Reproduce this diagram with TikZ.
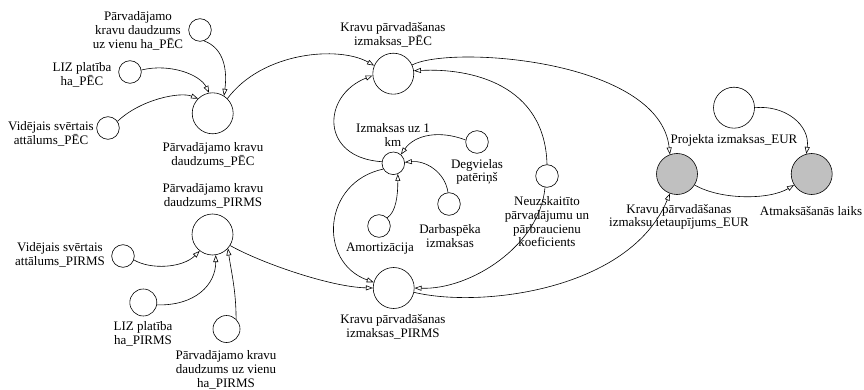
\documentclass[tikz,border=0pt]{standalone}
\usepackage{fontspec}
\setmainfont{Liberation Serif}
\usetikzlibrary{arrows.meta}
\definecolor{fillg}{RGB}{192,192,192}
\begin{document}
\begin{tikzpicture}[x=1pt,y=1pt,
  every node/.style={font=\fontsize{13}{13.7}\selectfont},
  bigc/.style={circle,draw,line width=0.6pt,minimum size=41pt,inner sep=0pt},
  smallc/.style={circle,draw,line width=0.6pt,minimum size=22.6pt,inner sep=0pt},
  midc/.style={circle,draw,line width=0.6pt,minimum size=27pt,inner sep=0pt},
  lab/.style={align=center,inner sep=0pt},
  arr/.style={line width=0.6pt,-{Triangle[open,length=7pt,width=5pt]}}]
\useasboundingbox (0,-390) rectangle (864,0);
% nodes
\node[smallc] (vhaPEC) at (200,-30) {};
\node[smallc] (lizPEC) at (130,-72) {};
\node[smallc] (vidPEC) at (108,-128) {};
\node[bigc] (daudzPEC) at (212.7,-113.3) {};
\node[bigc] (daudzPIRMS) at (212.5,-234.5) {};
\node[smallc] (vidPIRMS) at (123,-256) {};
\node[midc] (lizPIRMS) at (143.3,-302.5) {};
\node[midc] (vhaPIRMS) at (226.5,-329) {};
\node[bigc] (izmPEC) at (393.3,-73.7) {};
\node[smallc] (km) at (393.3,-163.3) {};
\node[smallc] (degv) at (477,-142) {};
\node[smallc] (darb) at (449,-204) {};
\node[smallc] (amort) at (379,-226) {};
\node[smallc] (neuz) at (547,-176) {};
\node[bigc] (izmPIRMS) at (393.7,-288) {};
\node[bigc,fill=fillg] (ietaup) at (677,-174) {};
\node[bigc,fill=fillg] (atm) at (811.7,-174) {};
\node[bigc] (proj) at (734,-107.7) {};
% labels
\node[lab] (l-vhaPEC) at (138,-31) {Pārvadājamo\\kravu daudzums\\uz vienu ha\_PĒC};
\node[lab] (l-lizPEC) at (82,-75) {LIZ platība\\ha\_PĒC};
\node[lab] (l-vidPEC) at (51,-134) {Vidējais svērtais\\attālums\_PĒC};
\node[lab] (l-daudzPEC) at (213,-155) {Pārvadājamo kravu\\daudzums\_PĒC};
\node[lab] (l-daudzPIRMS) at (213,-196) {Pārvadājamo kravu\\daudzums\_PIRMS};
\node[lab] (l-vidPIRMS) at (60,-255) {Vidējais svērtais\\attālums\_PIRMS};
\node[lab] (l-lizPIRMS) at (143,-334) {LIZ platība\\ha\_PIRMS};
\node[lab] (l-vhaPIRMS) at (226,-370) {Pārvadājamo kravu\\daudzums uz vienu\\ha\_PIRMS};
\node[lab] (l-izmPEC) at (393,-35) {Kravu pārvadāšanas\\izmaksas\_PĒC};
\node[lab] (l-km) at (393,-135) {Izmaksas uz 1\\km};
\node[lab] (l-degv) at (477,-172) {Degvielas\\patēriņš};
\node[lab] (l-darb) at (450,-236) {Darbaspēka\\izmaksas};
\node[lab] (l-amort) at (380,-249) {Amortizācija};
\node[lab] (l-neuz) at (547,-222) {Neuzskaitīto\\pārvadājumu un\\pārbraucienu\\koeficients};
\node[lab] (l-izmPIRMS) at (393,-327) {Kravu pārvadāšanas\\izmaksas\_PIRMS};
\node[lab] (l-ietaup) at (679,-217) {Kravu pārvadāšanas\\izmaksu ietaupījums\_EUR};
\node[lab] (l-atm) at (811,-211) {Atmaksāšanās laiks};
\node[lab] (l-proj) at (734,-140) {Projekta izmaksas\_EUR};
% connectors
\draw[arr] (vhaPEC.-70) .. controls +(17,-6) and +(4,31) .. (daudzPEC.57);
\draw[arr] (lizPEC.10) .. controls +(29,7) and +(-9,18) .. (daudzPEC.100);
\draw[arr] (vidPEC.35) .. controls +(23,22) and +(-18,7) .. (daudzPEC.135);
\draw[arr] (daudzPEC.45) .. controls +(35,47) and +(-35,20) .. (izmPEC.157);
\draw[arr] (km.172) .. controls +(-62,4) and +(-51,-20) .. (izmPEC.185);
\draw[arr] (neuz.90) .. controls +(-2,80) and +(57,3) .. (izmPEC.8);
\draw[arr] (izmPEC.25) .. controls +(39,20) and +(-10,95) .. (ietaup.110);
\draw[arr] (degv.170) .. controls +(-26,10) and +(14,20) .. (km.49);
\draw[arr] (darb.95) .. controls +(-3,21) and +(20,2) .. (km.5);
\draw[arr] (amort.45) .. controls +(9,6) and +(0,-21) .. (km.-67);
\draw[arr] (km.210) .. controls +(-61,-13) and +(-56,20) .. (izmPIRMS.164);
\draw[arr] (daudzPIRMS.-32) .. controls +(30,-17) and +(-43,1) .. (izmPIRMS.180);
\draw[arr] (neuz.-100) .. controls +(-5,-58) and +(56,-2) .. (izmPIRMS.0);
\draw[arr] (izmPIRMS.-12) .. controls +(66,-16) and +(-40,-97) .. (ietaup.-110);
\draw[arr] (ietaup.-32) .. controls +(26,-15) and +(-25,-15) .. (atm.-148);
\draw[arr] (proj.0) .. controls +(30,3) and +(4,29) .. (atm.105);
\draw[arr] (vidPIRMS.-20) .. controls +(17,-10) and +(-17,-17) .. (daudzPIRMS.-128);
\draw[arr] (lizPIRMS.-10) .. controls +(38,-1) and +(0,-30) .. (daudzPIRMS.-81);
\draw[arr] (vhaPIRMS.46) .. controls +(0,29) and +(3,-22) .. (daudzPIRMS.-42);
\end{tikzpicture}
\end{document}
